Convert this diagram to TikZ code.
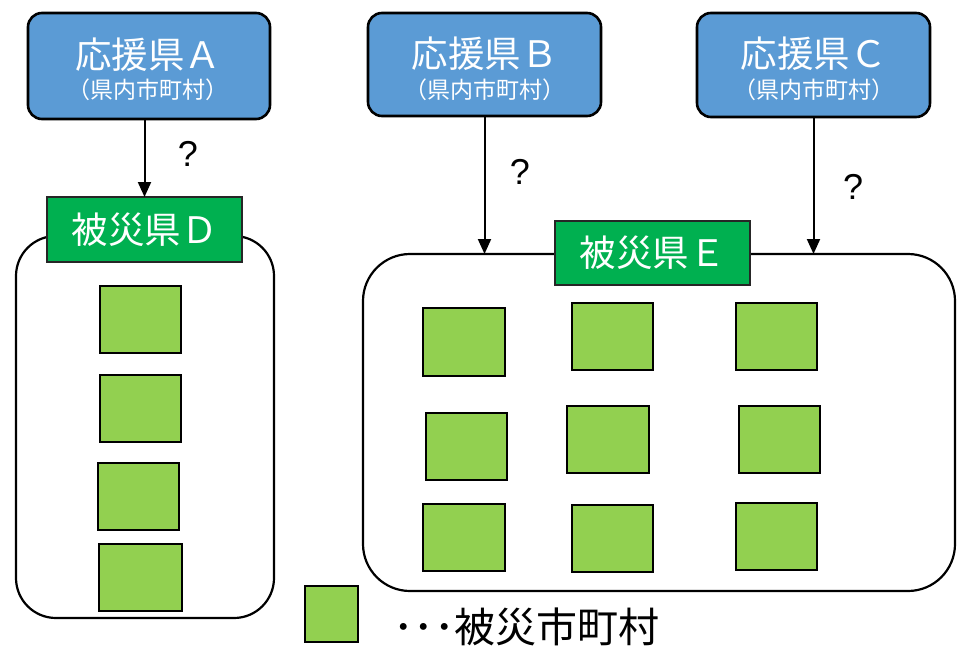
\documentclass[tikz,border=0pt]{standalone}
\usepackage{fontspec}
\setmainfont{Noto Sans CJK JP}
\newfontfamily\qfont{Liberation Sans}
\usetikzlibrary{arrows.meta}
\definecolor{ouenblue}{HTML}{5B9BD5}
\definecolor{hisaigreen}{HTML}{00B050}
\definecolor{townGreen}{HTML}{92D050}
\tikzset{
  ouenbox/.style={draw=black, line width=2.6pt, fill=ouenblue, rounded corners=14pt, inner sep=0pt, outer sep=0pt},
  areabox/.style={draw=black, line width=2.2pt, fill=white, inner sep=0pt, outer sep=0pt},
  labelbox/.style={draw=black!85, line width=2pt, fill=hisaigreen, text=white, inner sep=0pt, outer sep=0pt, font=\fontsize{36.5}{40}\selectfont},
  townbox/.style={draw=black, line width=2.6pt, fill=townGreen, inner sep=0pt, outer sep=0pt},
  maintext/.style={text=white, inner sep=0pt, font=\fontsize{36.5}{40}\selectfont},
  subtext/.style={text=white, inner sep=0pt, font=\fontsize{23}{26}\selectfont},
  qtext/.style={text=black, inner sep=0pt, font=\qfont\fontsize{36}{40}\selectfont},
  arr/.style={line width=2pt, -{Triangle[width=13pt,length=15pt]}}
}
\newcommand\townsq[5]{\node[townbox, minimum width={#4-#2}, minimum height={#5-#3}] (#1) at ({(#2+#4)/2},{(#3+#5)/2}) {};}
\begin{document}
\begin{tikzpicture}[x=1pt,y=-1pt]
\useasboundingbox (0,0) rectangle (957,655);

% support prefectures
\node[ouenbox, minimum width=242, minimum height=106] (boxA) at (149,66) {};
\node[ouenbox, minimum width=233, minimum height=103] (boxB) at (484.5,64.5) {};
\node[ouenbox, minimum width=233, minimum height=104] (boxC) at (813.5,65) {};
\node[maintext] (tA) at (148,55) {応援県Ａ};
\node[subtext] (sA) at (148,90) {（県内市町村）};
\node[maintext] (tB) at (484.5,54) {応援県Ｂ};
\node[subtext] (sB) at (484.5,90) {（県内市町村）};
\node[maintext] (tC) at (813.5,54) {応援県Ｃ};
\node[subtext] (sC) at (813.5,90) {（県内市町村）};

% disaster areas
\node[areabox, rounded corners=40pt, minimum width=258, minimum height=382] (bigD) at (145,427) {};
\node[areabox, rounded corners=47pt, minimum width=592, minimum height=337] (bigE) at (659,422.5) {};
\node[labelbox, minimum width=195, minimum height=65] (labD) at (144.5,229.5) {被災県Ｄ};
\node[labelbox, minimum width=195, minimum height=64] (labE) at (652.5,253) {被災県Ｅ};

% arrows
\draw[arr] (boxA.south -| labD.north) -- (labD.north);
\draw[arr] (boxB.south) -- (boxB.south |- bigE.north);
\draw[arr] (boxC.south) -- (boxC.south |- bigE.north);
\node[qtext] (qA) at (188,154) {?};
\node[qtext] (qB) at (520,172) {?};
\node[qtext] (qC) at (853,187) {?};

% municipalities
\townsq{d1}{100}{286}{181}{353}
\townsq{d2}{100}{375}{181}{442}
\townsq{d3}{98}{463}{179}{530}
\townsq{d4}{99}{544}{182}{611}
\townsq{e11}{423}{308}{505}{376}
\townsq{e12}{572}{303}{653}{370}
\townsq{e13}{736}{303}{817}{370}
\townsq{e21}{426}{413}{507}{480}
\townsq{e22}{567}{406}{649}{473}
\townsq{e23}{739}{406}{820}{473}
\townsq{e31}{423}{504}{505}{571}
\townsq{e32}{572}{505}{653}{572}
\townsq{e33}{736}{503}{817}{570}

% legend
\townsq{leg}{305}{586}{358}{642}
\node[anchor=west, inner sep=0pt, font=\fontsize{41}{46}\selectfont] (legtext) at (393,627) {･･･被災市町村};
\end{tikzpicture}
\end{document}
